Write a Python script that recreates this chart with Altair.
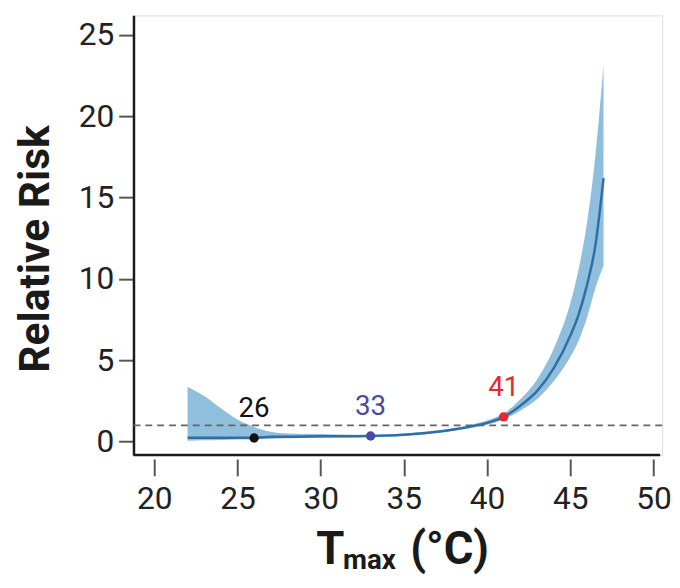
import altair as alt
import pandas as pd

# Curve (relative risk) and its confidence band
tmax = [22, 23, 24, 25, 26, 27, 28, 30, 32, 33, 34, 35, 36, 37, 38, 39, 40, 41, 42, 43, 44, 45, 45.5, 46, 46.5, 47]
rr   = [0.24, 0.24, 0.24, 0.24, 0.22, 0.3, 0.3, 0.32, 0.33, 0.34, 0.37, 0.42, 0.5, 0.6, 0.74, 0.92, 1.15, 1.52, 2.2, 3.1, 4.5, 6.5, 7.8, 9.6, 12.0, 16.2]
lo   = [0.05, 0.08, 0.1, 0.12, 0.14, 0.18, 0.2, 0.24, 0.27, 0.28, 0.31, 0.36, 0.43, 0.53, 0.66, 0.83, 1.04, 1.36, 1.9, 2.6, 3.7, 5.2, 6.2, 7.6, 9.4, 10.8]
hi   = [3.35, 2.8, 2.05, 1.35, 0.9, 0.6, 0.5, 0.46, 0.42, 0.42, 0.44, 0.5, 0.58, 0.68, 0.84, 1.04, 1.3, 1.72, 2.6, 3.8, 5.7, 8.5, 10.6, 13.4, 17.5, 23.2]

# Highlighted temperatures
pt_x = [26, 33, 41]
pt_y = [0.22, 0.34, 1.52]
pt_label = ["26", "33", "41"]
pt_color = ["#111111", "#4a4aa8", "#e8262b"]

ref_y = [1]

y_ticks = [0, 5, 10, 15, 20, 25]
x_ticks = [20, 25, 30, 35, 40, 45, 50]

FONT = "Roboto"
W, H = 535, 445

curve = pd.DataFrame({"t": tmax, "rr": rr, "lo": lo, "hi": hi})
pts = pd.DataFrame({"t": pt_x, "rr": pt_y, "label": pt_label})
ref = pd.DataFrame({"y": ref_y})

xs = alt.Scale(domain=[18.75, 50.52], nice=False, zero=False)
ys = alt.Scale(domain=[-0.83, 26.2], nice=False, zero=False)

xaxis = alt.Axis(values=x_ticks, domain=False, offset=4, tickSize=17, tickWidth=2,
                 tickColor="#555555", labelFont=FONT, labelFontSize=32, labelColor="#222222",
                 labelPadding=8, grid=False, title=None)
yaxis = alt.Axis(values=y_ticks, domain=True, domainColor="#1a1a1a", domainWidth=2.5,
                 tickSize=15, tickWidth=2, tickColor="#555555", labelFont=FONT,
                 labelFontSize=32, labelColor="#222222", labelPadding=5, grid=False,
                 title="Relative Risk", titleFont=FONT, titleFontSize=43,
                 titleFontWeight="bold", titleColor="#1a1a1a", titleAngle=-90,
                 titleBaseline="middle", titleX=-99, titleY=236, titleAlign="center")

band = alt.Chart(curve).mark_area(color="#8fbfdc", opacity=1, interpolate="monotone").encode(
    x=alt.X("t:Q", scale=xs, axis=xaxis),
    y=alt.Y("lo:Q", scale=ys, axis=yaxis),
    y2="hi:Q",
)

dash = alt.Chart(ref).mark_rule(color="#666666", strokeWidth=1.8, strokeDash=[7, 5]).encode(
    y=alt.Y("y:Q", scale=ys)
)

line = alt.Chart(curve).mark_line(color="#2f6ea8", strokeWidth=2.5, interpolate="monotone").encode(
    x=alt.X("t:Q", scale=xs),
    y=alt.Y("rr:Q", scale=ys),
)

cscale = alt.Scale(domain=pt_label, range=pt_color)

dots = alt.Chart(pts).mark_circle(size=90, opacity=1).encode(
    x=alt.X("t:Q", scale=xs),
    y=alt.Y("rr:Q", scale=ys),
    color=alt.Color("label:N", scale=cscale, legend=None),
)

labels = alt.Chart(pts).mark_text(font=FONT, fontSize=28, dy=-21, baseline="alphabetic").encode(
    x=alt.X("t:Q", scale=xs),
    y=alt.Y("rr:Q", scale=ys),
    text="label:N",
    color=alt.Color("label:N", scale=cscale, legend=None),
)

xline = alt.Chart(ref).mark_rule(color="#1a1a1a", strokeWidth=2.5).encode(
    x=alt.value(0), x2=alt.value(W - 2), y=alt.value(H)
)

t_main = alt.Chart(pd.DataFrame({"s": ["T"]})).mark_text(
    font=FONT, fontSize=46, fontWeight="bold", align="left", baseline="alphabetic", color="#1a1a1a"
).encode(x=alt.value(185), y=alt.value(555), text="s:N")
t_sub = alt.Chart(pd.DataFrame({"s": ["max"]})).mark_text(
    font=FONT, fontSize=28, fontWeight="bold", align="left", baseline="alphabetic", color="#1a1a1a"
).encode(x=alt.value(212), y=alt.value(560), text="s:N")
t_unit = alt.Chart(pd.DataFrame({"s": ["(°C)"]})).mark_text(
    font=FONT, fontSize=46, fontWeight="bold", align="left", baseline="alphabetic", color="#1a1a1a"
).encode(x=alt.value(280), y=alt.value(555), text="s:N")

chart = alt.layer(band, dash, line, dots, labels, xline, t_main, t_sub, t_unit).properties(
    width=W, height=H,
    autosize=alt.AutoSizeParams(type="none"),
    padding={"left": 127, "top": 4, "right": 10, "bottom": 123},
).configure_view(fill="#e8e9eb", strokeWidth=0).configure(background="white")

chart.save("out.html", embed_options={"renderer": "svg", "actions": False})
